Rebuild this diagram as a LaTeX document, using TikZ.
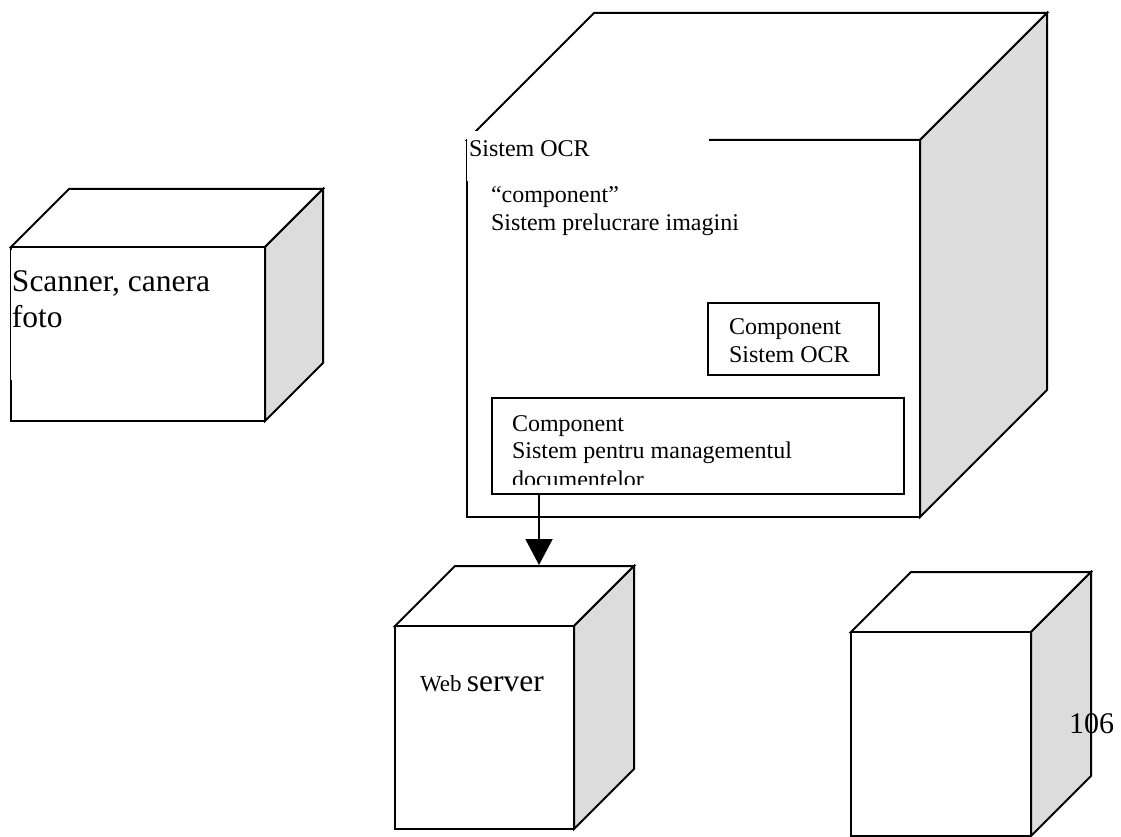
\documentclass[tikz,border=0pt]{standalone}
\usepackage{fontspec}
\setmainfont{Liberation Serif}
\usetikzlibrary{arrows.meta}
\definecolor{sidegray}{RGB}{220,220,220}
\tikzset{
  edge/.style={line width=2pt, line join=miter, draw=black},
  txt/.style={anchor=base west, inner sep=0pt, outer sep=0pt},
  sm/.style={font=\fontsize{24}{27}\selectfont},
  lg/.style={font=\fontsize{31.5}{36}\selectfont},
  compbox/.style={edge, fill=white, anchor=north west, inner sep=0pt}
}
% #1,#2 front top-left corner, #3 width, #4 height, #5 depth
\newcommand\drawcube[5]{%
  \draw[edge, fill=white] (#1,#2) -- ++(#5,-#5) -- ++(#3,0) -- ++(-#5,#5) -- cycle;
  \draw[edge, fill=sidegray] (#1+#3,#2) -- ++(#5,-#5) -- ++(0,#4) -- ++(-#5,#5) -- cycle;
  \draw[edge, fill=white] (#1,#2) rectangle ++(#3,#4);
}
\begin{document}
\begin{tikzpicture}[x=1pt,y=-1pt]
\useasboundingbox[fill=white] (0,0) rectangle (1121,837);

% Scanner cube
\drawcube{11}{247}{254}{174}{58}
\fill[white] (11,249.5) rectangle (200,380);
\node[txt, lg] (scan1) at (12,291) {Scanner, canera};
\node[txt, lg] (scan2) at (12,327) {foto};

% Big cube: Sistem OCR
\drawcube{467}{140}{453}{377}{127}
\fill[white] (467,131) rectangle (709,181);
\node[txt, sm] (ocrtitle) at (469,157) {Sistem OCR};
\node[txt, sm] (proc1) at (491,203) {“component”};
\node[txt, sm] (proc2) at (491,230) {Sistem prelucrare imagini};

% Component Sistem OCR
\node[compbox, minimum width=171pt, minimum height=72pt] (ocrc) at (707,302) {};
\node[txt, sm] (ocrc1) at (729,334) {Component};
\node[txt, sm] (ocrc2) at (729,362) {Sistem OCR};

% Component document management
\node[compbox, minimum width=412pt, minimum height=96pt] (dms) at (491,397) {};
\begin{scope}
\clip (493,399) rectangle (901,484.5);
\node[txt, sm] (dms1) at (512,431) {Component};
\node[txt, sm] (dms2) at (512,458) {Sistem pentru managementul};
\node[txt, sm] (dms3) at (512,487) {documentelor};
\end{scope}

% Web server cube
\drawcube{395}{626}{179}{203}{60}
\node[txt, font=\fontsize{23}{27}\selectfont] (web1) at (420,691) {Web};
\node[txt, lg, anchor=base west] (web2) at (web1.base east) {\,server};
\coordinate (wtop) at (539,565);

% Right cube
\drawcube{851}{632}{180}{204}{60}
\node[txt, font=\fontsize{30}{34}\selectfont] (page) at (1069,733) {106};

% Arrow
\draw[line width=2pt, -{Triangle[length=26pt, width=27pt]}] (wtop |- dms.south) -- (wtop);
\end{tikzpicture}
\end{document}
